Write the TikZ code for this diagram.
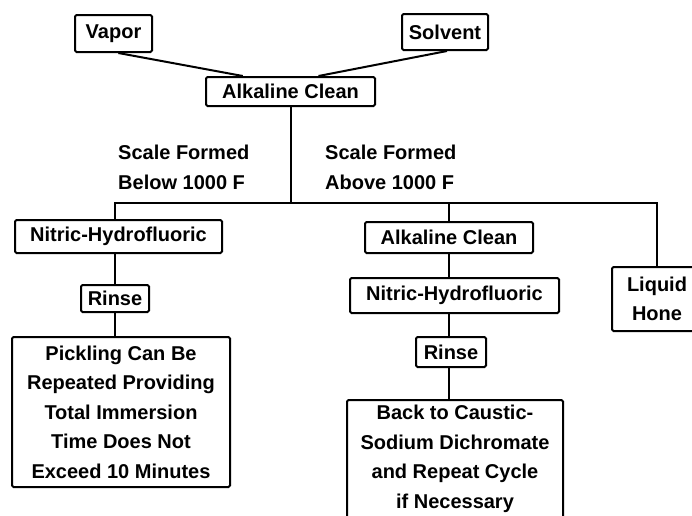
\documentclass[tikz,border=0pt]{standalone}
\usepackage{fontspec}
\setmainfont{Liberation Sans}
\begin{document}
\begin{tikzpicture}[x=1pt,y=-1pt,
  box/.style={draw, line width=2pt, rounded corners=1.5pt, inner sep=0pt, align=center,
              font=\bfseries\fontsize{20}{29.5}\selectfont},
  txt/.style={inner sep=0pt, align=center, font=\bfseries\fontsize{20}{29.5}\selectfont},
  lab/.style={inner sep=0pt, align=left, anchor=west, font=\bfseries\fontsize{20}{30}\selectfont},
  conn/.style={line width=2pt}]
\useasboundingbox (0,0) rectangle (692,515);

% top
\node[box, minimum width=77, minimum height=37] (vapor) at (113.5,33.5) {Vapor};
\node[box, minimum width=86, minimum height=36] (solvent) at (445,32) {Solvent};
\node[box, minimum width=169, minimum height=29] (alk1) at (290.5,91.5) {Alkaline Clean};

\draw[conn] (vapor.-76) -- (alk1.162);
\draw[conn] (solvent.-84) -- (alk1.29);

% labels
\node[lab] (below) at (118,167) {Scale Formed\\Below 1000 F};
\node[lab] (above) at (325,167) {Scale Formed\\Above 1000 F};

% branch coordinates
\coordinate (j0) at (290.5,203);
\coordinate (jL) at (115,203);
\coordinate (jM) at (449,203);
\coordinate (jR) at (657,203);

% left column
\node[box, minimum width=207, minimum height=33] (nit1) at (118.5,236.5) {Nitric-Hydrofluoric};
\node[box, minimum width=68, minimum height=27] (rinse1) at (115,298.5) {Rinse};
\node[box, minimum width=218, minimum height=150] (pick) at (121,412)
  {Pickling Can Be\\Repeated Providing\\Total Immersion\\Time Does Not\\Exceed 10 Minutes};

% middle column
\node[box, minimum width=168, minimum height=31] (alk2) at (449,237.5) {Alkaline Clean};
\node[box, minimum width=209, minimum height=35] (nit2) at (454.5,295.5) {Nitric-Hydrofluoric};
\node[box, minimum width=70, minimum height=30] (rinse2) at (451,352) {Rinse};
\node[box, minimum width=216, minimum height=140, anchor=north] (back) at (455,399) {};
\node[txt, anchor=north] (backtext) at (455,405)
  {Back to Caustic-\\Sodium Dichromate\\and Repeat Cycle\\if Necessary};

% right column
\node[box, minimum width=90, minimum height=64] (liquid) at (657,299) {Liquid\\Hone};

% connectors
\draw[conn] (alk1.south) -- (j0);
\draw[conn] (jL |- nit1.north) -- (jL) -- (jR) -- (liquid.north);
\draw[conn] (jM) -- (jM |- alk2.north);
\draw[conn] (jL |- nit1.south) -- (rinse1.north);
\draw[conn] (rinse1.south) -- (rinse1.south |- pick.north);
\draw[conn] (jM |- alk2.south) -- (jM |- nit2.north);
\draw[conn] (jM |- nit2.south) -- (jM |- rinse2.north);
\draw[conn] (jM |- rinse2.south) -- (jM |- back.north);
\end{tikzpicture}
\end{document}
